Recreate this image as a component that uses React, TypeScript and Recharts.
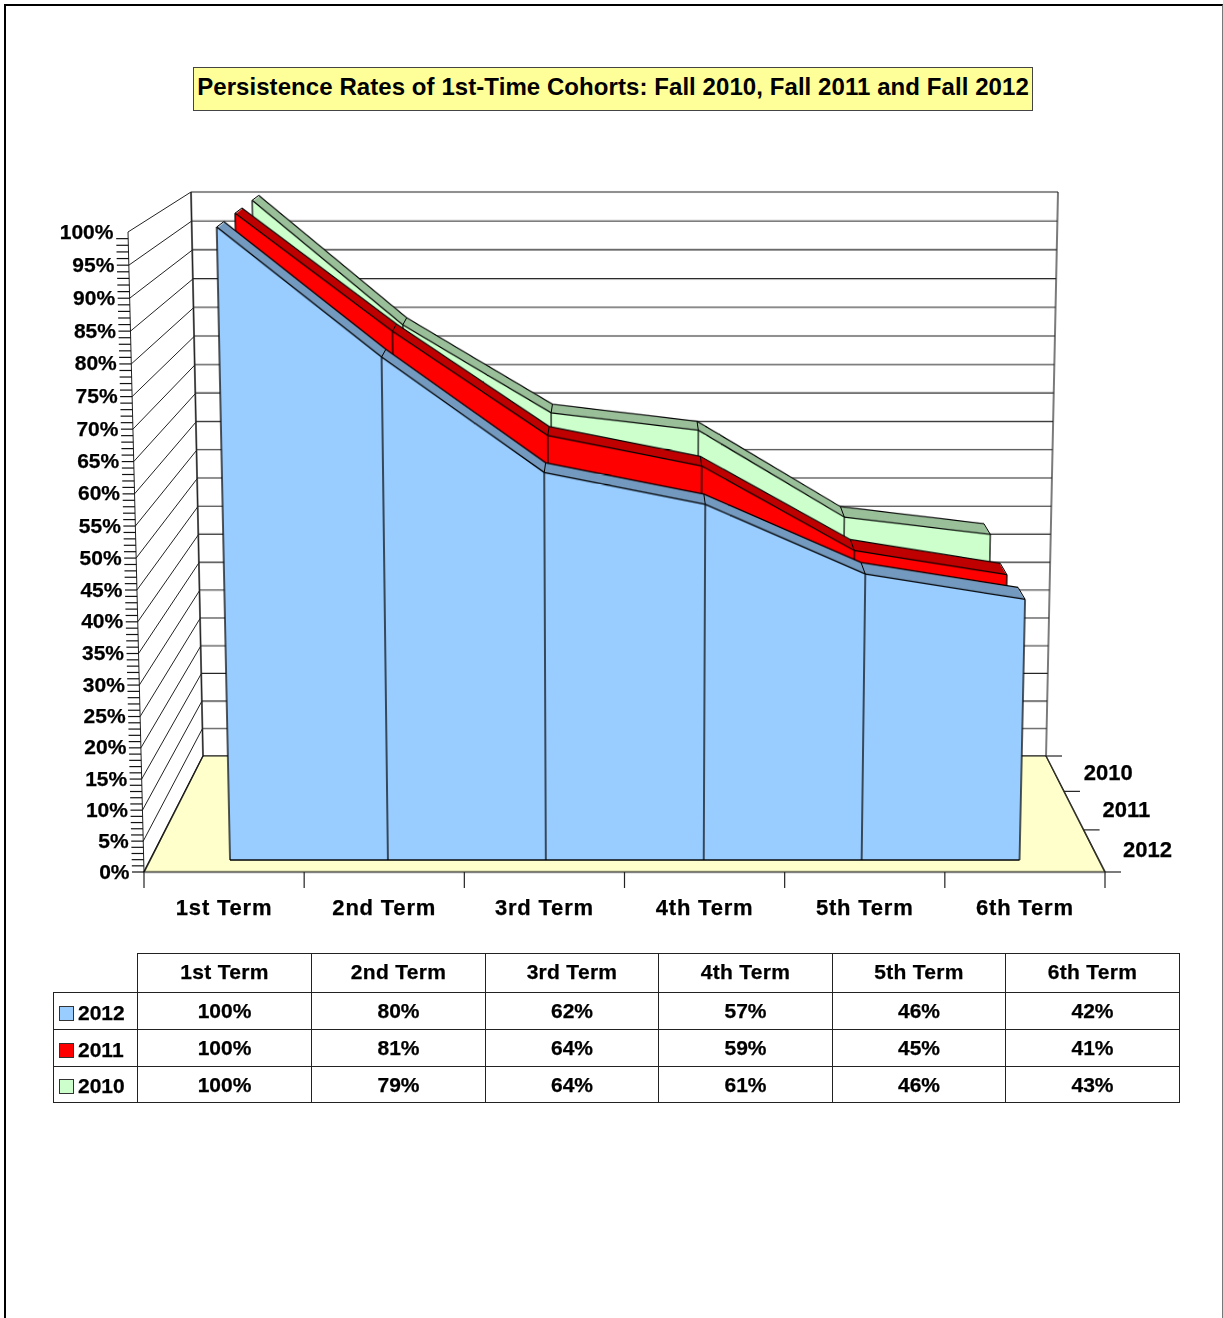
import { Area, AreaChart, CartesianGrid, Line, LineChart, ReferenceLine, XAxis, YAxis } from "recharts";

const TERMS = ["1st Term", "2nd Term", "3rd Term", "4th Term", "5th Term", "6th Term"];
const VALUES_2012 = [100, 80, 62, 57, 46, 42];
const VALUES_2011 = [100, 81, 64, 59, 45, 41];
const VALUES_2010 = [100, 79, 64, 61, 46, 43];
const GRID_TICKS = [0, 5, 10, 15, 20, 25, 30, 35, 40, 45, 50, 55, 60, 65, 70, 75, 80, 85, 90, 95, 100];
const AXIS_TICKS = Array.from({ length: 101 }, (_, i) => i);
const DEPTH_LABELS = ["2012", "2011", "2010"];
const TITLE = "Persistence Rates of 1st-Time Cohorts: Fall 2010, Fall 2011 and Fall 2012";

const FONT = '"Liberation Sans", Arial, sans-serif';
const PAGE_W = 1223;
const PAGE_H = 1318;
const MARGIN = 4;

type Pt = [number, number];
type Quad = [Pt, Pt, Pt, Pt]; // top-left, top-right, bottom-right, bottom-left

const BACK_WALL: Quad = [[191, 192], [1058, 192], [1046, 756], [203, 756]];
const LEFT_WALL: Quad = [[128, 232], [191, 192], [203, 756], [144, 872]];
const FLOOR: Quad = [[203, 756], [1046, 756], [1105, 872], [144, 872]];
const FRONT_PLANE: Quad = [[216.7, 227], [1033, 227], [1019.5, 860], [230, 860]];
const VANISH: Pt = [624.5, -80];
const THICKNESS = 0.0175;

const SERIES = [
  { name: "2010", values: VALUES_2010, fill: "#CCFFCC", top: "#99BF99", scale: 0.913 },
  { name: "2011", values: VALUES_2011, fill: "#FF0000", top: "#BF0000", scale: 0.955 },
  { name: "2012", values: VALUES_2012, fill: "#99CCFF", top: "#7399BF", scale: 1 },
];
const TABLE_ROWS = [SERIES[2], SERIES[1], SERIES[0]];

function scaleQuad(q: Quad, s: number): Quad {
  return q.map(([x, y]) => [VANISH[0] + s * (x - VANISH[0]), VANISH[1] + s * (y - VANISH[1])]) as Quad;
}

// unit square -> quad
function solve(q: Quad) {
  const [[x0, y0], [x1, y1], [x2, y2], [x3, y3]] = q;
  const dx1 = x1 - x2, dx2 = x3 - x2, sx = x0 - x1 + x2 - x3;
  const dy1 = y1 - y2, dy2 = y3 - y2, sy = y0 - y1 + y2 - y3;
  const den = dx1 * dy2 - dx2 * dy1;
  const g = (sx * dy2 - dx2 * sy) / den;
  const h = (dx1 * sy - sx * dy1) / den;
  return {
    a: x1 - x0 + g * x1, b: x3 - x0 + h * x3, c: x0,
    d: y1 - y0 + g * y1, e: y3 - y0 + h * y3, f: y0,
    g, h,
  };
}

function project(q: Quad, u: number, v: number): Pt {
  const { a, b, c, d, e, f, g, h } = solve(q);
  const w = g * u + h * v + 1;
  return [(a * u + b * v + c) / w, (d * u + e * v + f) / w];
}

function warp(q: Quad, w: number, h: number) {
  const m = solve(q);
  const cols = [
    m.a / w, m.d / w, 0, m.g / w,
    m.b / h, m.e / h, 0, m.h / h,
    0, 0, 1, 0,
    m.c, m.f, 0, 1,
  ];
  return `matrix3d(${cols.join(",")}) translate(${-MARGIN}px,${-MARGIN}px)`;
}

function Warped({ quad, w, h, children }: { quad: Quad; w: number; h: number; children: any }) {
  return (
    <div
      style={{
        position: "absolute",
        left: 0,
        top: 0,
        width: w + MARGIN * 2,
        height: h + MARGIN * 2,
        transformOrigin: "0 0",
        transform: warp(quad, w, h),
      }}
    >
      {children}
    </div>
  );
}

const chartMargin = { top: MARGIN, right: MARGIN, bottom: MARGIN, left: MARGIN };

function BackWall() {
  const w = 860;
  const h = 564;
  return (
    <Warped quad={BACK_WALL} w={w} h={h}>
      <LineChart width={w + MARGIN * 2} height={h + MARGIN * 2} margin={chartMargin} data={[{ x: 0, y: 0 }, { x: 1, y: 100 }]}>
        <XAxis type="number" dataKey="x" domain={[0, 1]} hide />
        <YAxis type="number" domain={[0, 100]} hide />
        <Line dataKey="y" stroke="none" dot={false} activeDot={false} isAnimationActive={false} />
        {GRID_TICKS.map((t) => (
          <ReferenceLine key={t} y={t} stroke="#222" strokeWidth={1.1} />
        ))}
        <ReferenceLine x={0} stroke="#222" strokeWidth={1.2} />
        <ReferenceLine x={1} stroke="#222" strokeWidth={1.2} />
      </LineChart>
    </Warped>
  );
}

function Floor() {
  const w = 960;
  const h = 116;
  return (
    <Warped quad={FLOOR} w={w} h={h}>
      <LineChart width={w + MARGIN * 2} height={h + MARGIN * 2} margin={chartMargin} data={[{ x: 0, y: 0 }, { x: 1, y: 1 }]}>
        <XAxis type="number" dataKey="x" domain={[0, 1]} hide />
        <YAxis type="number" domain={[0, 1]} hide />
        <CartesianGrid horizontal={false} vertical={false} fill="#FFFFCC" fillOpacity={1} />
        <Line dataKey="y" stroke="none" dot={false} activeDot={false} isAnimationActive={false} />
        <ReferenceLine x={0} stroke="#000" strokeWidth={1.6} />
        <ReferenceLine x={1} stroke="#000" strokeWidth={1.6} />
        <ReferenceLine y={0} stroke="#000" strokeWidth={1.2} />
        <ReferenceLine y={1} stroke="#000" strokeWidth={1} />
      </LineChart>
    </Warped>
  );
}

function Plane({ quad, values, fill, line, seams }: { quad: Quad; values: number[]; fill: string; line: string; seams: boolean }) {
  const w = 800;
  const h = 630;
  const data = TERMS.map((term, i) => ({ term, value: values[i] }));
  return (
    <Warped quad={quad} w={w} h={h}>
      <AreaChart width={w + MARGIN * 2} height={h + MARGIN * 2} margin={chartMargin} data={data}>
        <XAxis dataKey="term" hide />
        <YAxis type="number" domain={[0, 100]} hide />
        <Area
          type="linear"
          dataKey="value"
          fill={fill}
          fillOpacity={1}
          stroke={line}
          strokeWidth={1.3}
          dot={false}
          activeDot={false}
          isAnimationActive={false}
        />
        {seams &&
          data.map((d) => (
            <ReferenceLine
              key={d.term}
              segment={[{ x: d.term, y: 0 }, { x: d.term, y: d.value }]}
              stroke="#000"
              strokeWidth={1.3}
            />
          ))}
        {seams && <ReferenceLine y={0} stroke="#000" strokeWidth={1.3} />}
      </AreaChart>
    </Warped>
  );
}

// page-space overlay: straight lines between points already run through project()
function PageSegments({ segments, stroke, width }: { segments: [Pt, Pt][]; stroke: string; width: number }) {
  return (
    <div style={{ position: "absolute", left: 0, top: 0 }}>
      <LineChart
        width={PAGE_W}
        height={PAGE_H}
        margin={{ top: 0, right: 0, bottom: 0, left: 0 }}
        data={[{ x: 0, y: 0 }, { x: PAGE_W, y: PAGE_H }]}
      >
        <XAxis type="number" dataKey="x" domain={[0, PAGE_W]} hide />
        <YAxis type="number" domain={[0, PAGE_H]} reversed hide />
        <Line dataKey="y" stroke="none" dot={false} activeDot={false} isAnimationActive={false} />
        {segments.map(([a, b], i) => (
          <ReferenceLine
            key={i}
            segment={[{ x: a[0], y: a[1] }, { x: b[0], y: b[1] }]}
            stroke={stroke}
            strokeWidth={width}
          />
        ))}
      </LineChart>
    </div>
  );
}

function LeftWall() {
  const segments: [Pt, Pt][] = GRID_TICKS.map((t) => {
    const v = 1 - t / 100;
    return [project(LEFT_WALL, 0, v), project(LEFT_WALL, 1, v)];
  });
  segments.push([LEFT_WALL[0], LEFT_WALL[3]], [LEFT_WALL[1], LEFT_WALL[2]]);
  return <PageSegments segments={segments} stroke="#222" width={1} />;
}

// short joins across the top face, from the front plane back to the rear plane
function TopJoins({ front, back, values }: { front: Quad; back: Quad; values: number[] }) {
  const segments: [Pt, Pt][] = values.map((value, i) => {
    const u = i / (TERMS.length - 1);
    const v = 1 - value / 100;
    return [project(front, u, v), project(back, u, v)];
  });
  return <PageSegments segments={segments} stroke="#000" width={1} />;
}

function Series({ values, fill, top, scale }: { values: number[]; fill: string; top: string; scale: number }) {
  const front = scaleQuad(FRONT_PLANE, scale);
  const back = scaleQuad(FRONT_PLANE, scale * (1 - THICKNESS));
  const mids = [0.85, 0.7, 0.55, 0.4, 0.25, 0.1];
  return (
    <>
      <Plane quad={back} values={values} fill={top} line="#000" seams={false} />
      {mids.map((t) => (
        <Plane key={t} quad={scaleQuad(FRONT_PLANE, scale * (1 - THICKNESS * t))} values={values} fill={top} line="none" seams={false} />
      ))}
      <Plane quad={front} values={values} fill={fill} line="#000" seams={true} />
      <TopJoins front={front} back={back} values={values} />
    </>
  );
}

const textStyle = { fontFamily: FONT, fontWeight: 700, fill: "#000", stroke: "#000", strokeWidth: 0.25 };

function ValueTick({ payload }: any) {
  const [x, y] = project(LEFT_WALL, 0, 1 - payload.value / 100);
  const major = payload.value % 5 === 0;
  return (
    <g>
      {payload.value !== 100 && <line x1={x - 12} x2={x} y1={y} y2={y} stroke="#111" strokeWidth={1.2} />}
      {major && (
        <text x={x - 14.5} y={y + 6.5} textAnchor="end" fontSize={21} style={textStyle}>
          {payload.value}%
        </text>
      )}
    </g>
  );
}

function DepthTick({ payload }: any) {
  const [x, y] = project(FLOOR, 1, payload.value / 3);
  return <line x1={x} x2={x + 16} y1={y} y2={y} stroke="#222" strokeWidth={1.2} />;
}

function DepthLabel({ payload }: any) {
  const band = Math.floor(payload.value);
  const [x, y] = project(FLOOR, 1, 1 - (band + 0.5) / 3);
  return (
    <text x={x + 29} y={y + 7} fontSize={22} style={textStyle}>
      {DEPTH_LABELS[band]}
    </text>
  );
}

function TermTick({ x, payload }: any) {
  const bandWidth = (1105 - 144) / TERMS.length;
  return (
    <g>
      <line x1={x} x2={x} y1={872} y2={888} stroke="#222" strokeWidth={1.2} />
      {payload.value < TERMS.length && (
        <text x={x + bandWidth / 2} y={915} textAnchor="middle" fontSize={22} letterSpacing={0.8} style={textStyle}>
          {TERMS[payload.value]}
        </text>
      )}
    </g>
  );
}

function Axes() {
  return (
    <div style={{ position: "absolute", left: 0, top: 0 }}>
      <LineChart
        width={PAGE_W}
        height={PAGE_H}
        margin={{ top: 0, right: PAGE_W - 1105, bottom: 0, left: 141 }}
        data={[{ i: 0, v: 0, d: 0 }, { i: 6, v: 100, d: 3 }]}
      >
        <XAxis
          type="number"
          dataKey="i"
          domain={[0, TERMS.length]}
          ticks={[0, 1, 2, 3, 4, 5, 6]}
          interval={0}
          tick={TermTick}
          tickLine={false}
          axisLine={false}
          height={PAGE_H - 872}
        />
        <YAxis yAxisId="v" type="number" domain={[0, 100]} ticks={AXIS_TICKS} interval={0} tick={ValueTick} width={1} axisLine={false} tickLine={false} />
        <YAxis yAxisId="d" type="number" domain={[0, 3]} ticks={[0, 1, 2, 3]} interval={0} tick={DepthTick} width={1} axisLine={false} tickLine={false} />
        <YAxis yAxisId="l" type="number" domain={[0, 3]} ticks={[0, 1, 2]} interval={0} tick={DepthLabel} width={1} axisLine={false} tickLine={false} />
        <Line yAxisId="v" dataKey="v" stroke="none" dot={false} activeDot={false} isAnimationActive={false} />
        <Line yAxisId="d" dataKey="d" stroke="none" dot={false} activeDot={false} isAnimationActive={false} />
        <Line yAxisId="l" dataKey="d" stroke="none" dot={false} activeDot={false} isAnimationActive={false} />
      </LineChart>
    </div>
  );
}

const cell = { border: "1px solid #222", padding: 0, textAlign: "center" as const, fontWeight: 700 };
const COLS = [84, 174, 174, 173, 174, 173, 174];

function DataTable() {
  return (
    <table
      style={{
        position: "absolute",
        left: 53,
        top: 953,
        width: 1126,
        tableLayout: "fixed",
        borderCollapse: "collapse",
        fontFamily: FONT,
        fontSize: 21,
        color: "#000",
        WebkitTextStroke: "0.25px #000",
      }}
    >
      <colgroup>
        {COLS.map((w, i) => (
          <col key={i} style={{ width: w }} />
        ))}
      </colgroup>
      <tbody>
        <tr style={{ height: 39 }}>
          <td style={{ ...cell, border: "none", borderBottom: "1px solid #222", borderRight: "1px solid #222" }} />
          {TERMS.map((t) => (
            <td key={t} style={{ ...cell, letterSpacing: 0.3, paddingBottom: 2 }}>{t}</td>
          ))}
        </tr>
        {TABLE_ROWS.map((s, r) => (
          <tr key={s.name} style={{ height: r === 2 ? 36 : 37 }}>
            <td style={{ ...cell, textAlign: "left", paddingTop: 3 }}>
              <span
                style={{
                  display: "inline-block",
                  width: 13,
                  height: 13,
                  marginLeft: 5,
                  marginRight: 4,
                  background: s.fill,
                  border: "1px solid #333",
                  verticalAlign: -1,
                }}
              />
              {s.name}
            </td>
            {s.values.map((v, i) => (
              <td key={i} style={{ ...cell }}>{v}%</td>
            ))}
          </tr>
        ))}
      </tbody>
    </table>
  );
}

export default function App() {
  return (
    <div style={{ position: "absolute", left: 0, top: 0, width: PAGE_W, height: PAGE_H, overflow: "hidden", background: "#FFF" }}>
      <div
        style={{
          position: "absolute",
          left: 4,
          top: 4,
          width: PAGE_W - 4,
          height: PAGE_H - 4,
          boxSizing: "border-box",
          borderLeft: "2px solid #000",
          borderTop: "2px solid #000",
          borderRight: "1px solid #777",
        }}
      />
      <div
        style={{
          position: "absolute",
          left: 193,
          top: 67,
          width: 838,
          height: 42,
          lineHeight: "38px",
          background: "#FFFF99",
          border: "1px solid #444",
          fontFamily: FONT,
          fontWeight: 700,
          fontSize: 24,
          letterSpacing: 0.07,
          textAlign: "center",
          whiteSpace: "nowrap",
          color: "#000",
        }}
      >
        {TITLE}
      </div>
      <BackWall />
      <LeftWall />
      <Floor />
      {SERIES.map((s) => (
        <Series key={s.name} values={s.values} fill={s.fill} top={s.top} scale={s.scale} />
      ))}
      <Axes />
      <DataTable />
    </div>
  );
}
